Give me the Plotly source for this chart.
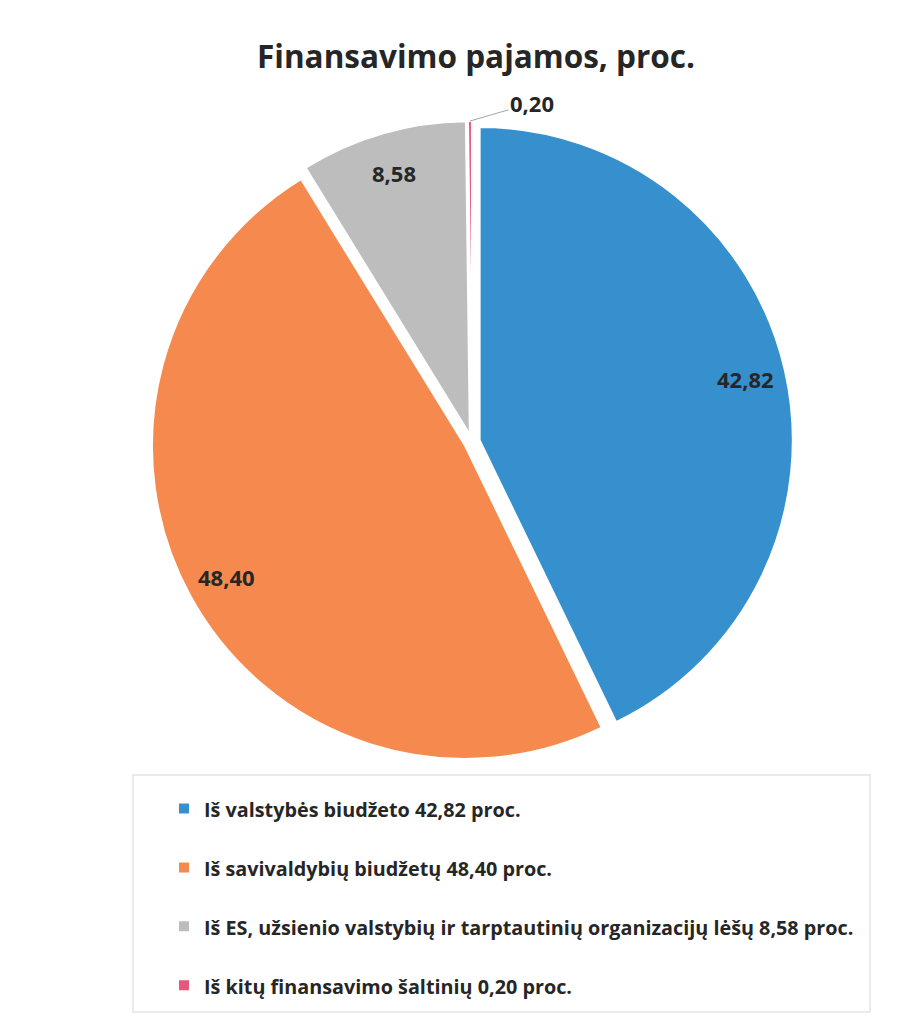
import math
import plotly.graph_objects as go

title_text = "Finansavimo pajamos, proc."
categories = [
    "Iš valstybės biudžeto 42,82 proc.",
    "Iš savivaldybių biudžetų 48,40 proc.",
    "Iš ES, užsienio valstybių ir tarptautinių organizacijų lėšų 8,58 proc.",
    "Iš kitų finansavimo šaltinių 0,20 proc.",
]
values = [42.82, 48.40, 8.58, 0.20]
colors = ["#3690CD", "#F5894E", "#BDBDBD", "#E5577B"]

W, H = 923, 1026
PULL = 0.025
CX, CY, HALF = 464, 434, 321          # pie centre / half size in pixels
dom_x = [(CX - HALF) / W, (CX + HALF) / W]
dom_y = [1 - (CY + HALF) / H, 1 - (CY - HALF) / H]

# legend labels: an extra blank line gives the wider row spacing of the original
legend_labels = [f"<span style='font-size:19.8px'>{c}</span><br> " for c in categories]

fig = go.Figure()
fig.add_trace(go.Pie(
    labels=legend_labels,
    values=values,
    sort=False,
    direction="clockwise",
    rotation=0,
    pull=[PULL] * len(values),
    marker=dict(colors=colors, line=dict(color="white", width=2)),
    textinfo="none",
    domain=dict(x=dom_x, y=dom_y),
    showlegend=True,
    hovertemplate="%{value:.2f}<extra></extra>",
))

# data labels placed near the outer edge of each slice, from the values
total = sum(values)
cx = (dom_x[0] + dom_x[1]) / 2 * W
cy = (1 - (dom_y[0] + dom_y[1]) / 2) * H
half = min((dom_x[1] - dom_x[0]) * W, (dom_y[1] - dom_y[0]) * H) / 2
r = half / (1 + PULL)
label_font = dict(family="Open Sans", size=22, color="#262626", weight="bold")
cum = 0.0
for v in values:
    mid = (cum + v / 2) / total * 2 * math.pi
    cum += v
    dx, dy = math.sin(mid), -math.cos(mid)
    txt = f"{v:.2f}".replace(".", ",")
    if v / total > 0.02:
        rr = r * (0.87 + PULL)
        px, py = cx + rr * dx, cy + rr * dy
        fig.add_annotation(x=px / W, y=1 - py / H, xref="paper", yref="paper",
                           xanchor="center", yanchor="middle",
                           text=txt, showarrow=False, font=label_font)
    else:
        rr = r * (1.0 + PULL)
        px, py = cx + rr * dx, cy + rr * dy
        fig.add_annotation(x=px / W, y=1 - py / H, xref="paper", yref="paper",
                           text=txt, showarrow=True, arrowhead=0, arrowwidth=1,
                           arrowcolor="#A6A6A6", ax=62, ay=-18, font=label_font)

fig.add_shape(type="rect", xref="paper", yref="paper",
              x0=125 / W, x1=862 / W, y0=1 - 1004 / H, y1=1 - 767 / H,
              line=dict(color="#E3E3E3", width=1.5), fillcolor="rgba(0,0,0,0)", layer="below")

fig.update_layout(
    width=W, height=H,
    margin=dict(l=0, r=0, t=0, b=0),
    paper_bgcolor="white",
    plot_bgcolor="white",
    separators=", ",
    title=dict(text=title_text, x=468 / W, xanchor="center", y=1 - 49 / H, yanchor="middle",
               font=dict(family="Open Sans", size=31.5, color="#262626", weight="bold")),
    legend=dict(
        x=156 / W, xanchor="left", y=1 - 780 / H, yanchor="top",
        valign="top",
        font=dict(family="Open Sans", size=21.5, color="#262626", weight="bold"),
        bgcolor="rgba(0,0,0,0)", itemwidth=30,
    ),
)

fig.write_html("out.html")
